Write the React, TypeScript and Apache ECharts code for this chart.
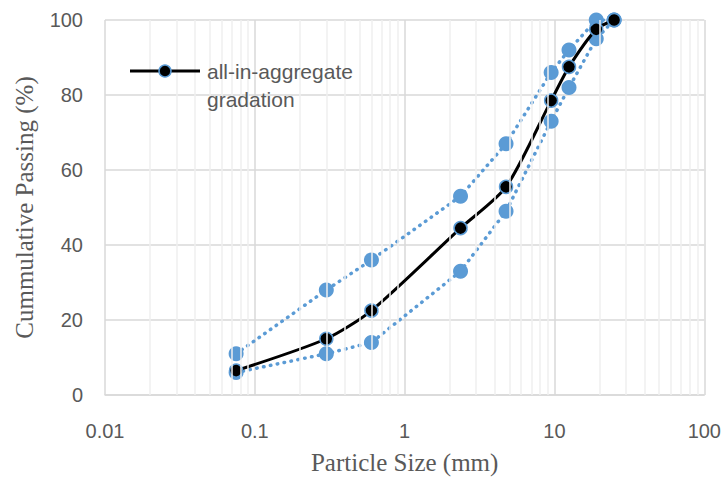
import React, { useEffect, useRef } from "react";
import * as echarts from "echarts";

const sieveSizes = [0.075, 0.3, 0.6, 2.36, 4.75, 9.5, 12.5, 19, 25];
const upperLimit = [11, 28, 36, 53, 67, 86, 92, 100, 100];
const lowerLimit = [6, 11, 14, 33, 49, 73, 82, 95, 100];
const gradation = [6.5, 15, 22.5, 44.5, 55.5, 78.5, 87.5, 97.5, 100];
const decades = [0.01, 0.1, 1, 10];
const minorMultipliers = [2, 3, 4, 5, 6, 7, 8, 9];

const BLUE = "#5B9BD5";
const GRAY_TEXT = "#595959";

export default function App() {
  const ref = useRef<HTMLDivElement>(null);
  useEffect(() => {
    if (!ref.current) return;
    const chart = echarts.init(ref.current, undefined, { renderer: "svg" });
    const pair = (ys: number[]) => sieveSizes.map((x, i) => [x, ys[i]]);
    const minorLines: any[] = [];
    decades.forEach((d) => minorMultipliers.forEach((m) => minorLines.push({ xAxis: +(d * m).toPrecision(3) })));
    chart.setOption({
      animation: false,
      grid: { left: 105, right: 16, top: 20, bottom: 83 },
      xAxis: {
        type: "log",
        logBase: 10,
        min: 0.01,
        max: 100,
        name: "Particle Size (mm)",
        nameLocation: "middle",
        nameGap: 55,
        nameTextStyle: { fontFamily: "Liberation Serif", fontSize: 25, color: GRAY_TEXT },
        axisLine: { show: true, lineStyle: { color: "#D9D9D9", width: 1.5 } },
        axisTick: { show: false },
        axisLabel: {
          fontFamily: "Liberation Sans",
          fontSize: 20,
          color: GRAY_TEXT,
          margin: 26,
          formatter: (v: number) => String(v),
        },
        splitLine: { show: true, lineStyle: { color: "#D9D9D9", width: 1.5 } },
      },
      yAxis: {
        type: "value",
        min: 0,
        max: 100,
        interval: 20,
        name: "Cummulative Passing (%)",
        nameLocation: "middle",
        nameGap: 68,
        nameTextStyle: { fontFamily: "Liberation Serif", fontSize: 25, color: GRAY_TEXT },
        axisLine: { show: false },
        axisTick: { show: false },
        axisLabel: { fontFamily: "Liberation Sans", fontSize: 20, color: GRAY_TEXT, margin: 22 },
        splitLine: { show: true, lineStyle: { color: "#D9D9D9", width: 1.5 } },
      },
      graphic: [
        { type: "line", shape: { x1: 130, y1: 71, x2: 200, y2: 71 }, style: { stroke: "#000", lineWidth: 3 }, z: 100 },
        { type: "circle", shape: { cx: 165, cy: 71, r: 6 }, style: { fill: "#000", stroke: BLUE, lineWidth: 1.5 }, z: 101 },
        {
          type: "text",
          x: 207,
          y: 57,
          z: 100,
          style: {
            text: "all-in-aggregate\ngradation",
            font: "21px 'Liberation Sans'",
            fill: GRAY_TEXT,
            lineHeight: 28,
            verticalAlign: "top",
          },
        },
      ],
      series: [
        {
          type: "line",
          name: "minor",
          data: [],
          silent: true,
          z: 0,
          markLine: {
            silent: true,
            symbol: "none",
            label: { show: false },
            lineStyle: { color: "#EFEFEF", width: 1.5, type: "solid" },
            data: minorLines,
          },
        },
        {
          type: "line",
          name: "upper",
          data: pair(upperLimit),
          symbol: "circle",
          symbolSize: 15,
          itemStyle: { color: BLUE },
          lineStyle: { color: BLUE, width: 3.5, type: [0.5, 6.5], cap: "round" },
          z: 3,
        },
        {
          type: "line",
          name: "lower",
          data: pair(lowerLimit),
          symbol: "circle",
          symbolSize: 15,
          itemStyle: { color: BLUE },
          lineStyle: { color: BLUE, width: 3.5, type: [0.5, 6.5], cap: "round" },
          z: 3,
        },
        {
          type: "line",
          name: "all-in-aggregate gradation",
          data: pair(gradation),
          smooth: 0.25,
          symbol: "circle",
          symbolSize: 13,
          itemStyle: { color: "#000", borderColor: BLUE, borderWidth: 1.5 },
          lineStyle: { color: "#000", width: 3 },
          z: 4,
        },
      ],
    });
    return () => chart.dispose();
  }, []);
  return <div ref={ref} style={{ width: 724, height: 480, position: "absolute", left: 0, top: 0 }} />;
}
